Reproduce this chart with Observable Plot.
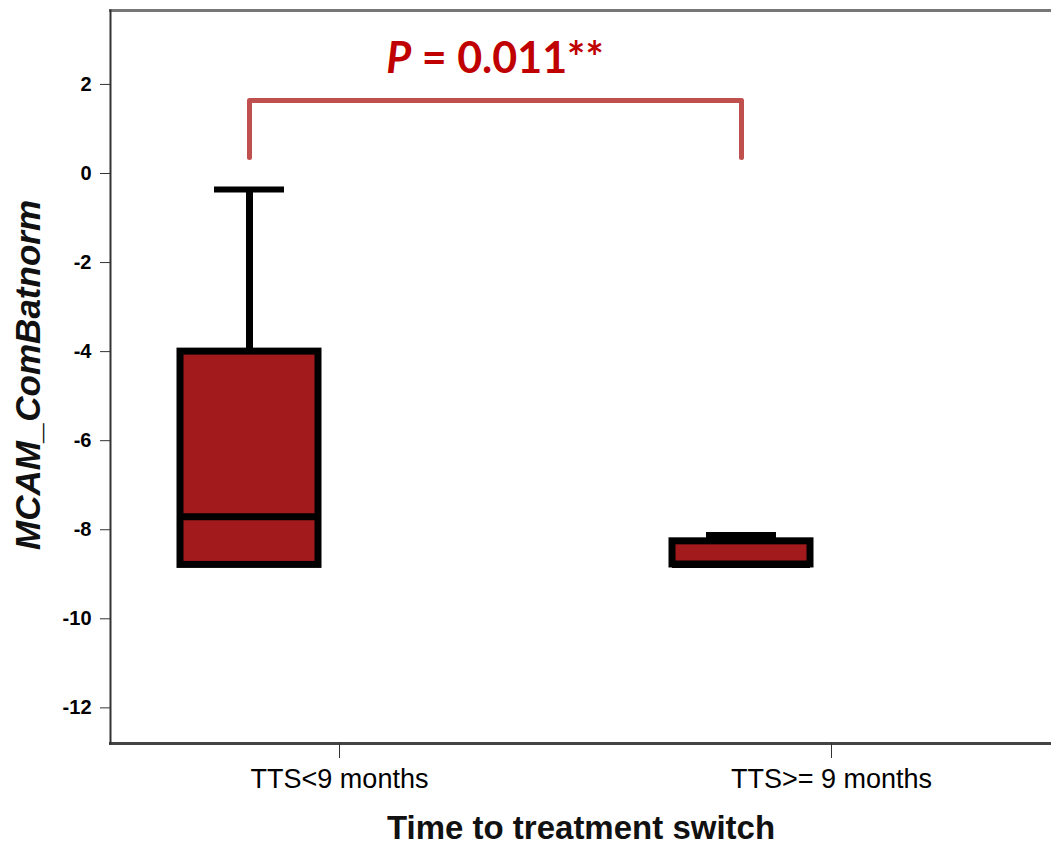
<!DOCTYPE html>
<html><head><meta charset="utf-8">
<script src="https://cdn.jsdelivr.net/npm/d3@7"></script>
<script src="https://cdn.jsdelivr.net/npm/@observablehq/plot@0.6"></script>
<style>html,body{margin:0;padding:0;background:#fff} svg{display:block}</style>
</head><body><div id="chart"></div>
<script>
// ---- data ----
const groups = ["TTS<9 months", "TTS>= 9 months"];
const q1 = [-8.79, -8.78];
const median = [-7.71, -8.78];
const q3 = [-4.0, -8.26];
const whiskerMax = [-0.36, -8.12];
const yTicks = [-12, -10, -8, -6, -4, -2, 0, 2];
const yDomain = [-12.8, 3.66];
const bracketX = [groups[0], groups[0], groups[1], groups[1]];
const bracketY = [0.36, 1.64, 1.64, 0.36];
const pPrefix = "P";
const pRest = " = 0.011**";
const pY = 2.25;
const xTitle = "Time to treatment switch";
const yTitle = "MCAM_ComBatnorm";

const boxes = groups.map((g, i) => ({group: g, q1: q1[i], median: median[i], q3: q3[i], max: whiskerMax[i]}));
const bracket = bracketX.map((x, i) => ({x, y: bracketY[i]}));

const plot = Plot.plot({
  width: 1051,
  height: 845,
  marginLeft: 110,
  marginRight: 0,
  marginTop: 10,
  marginBottom: 102,
  style: {fontFamily: "Liberation Sans, Arial, sans-serif", background: "#fff"},
  x: {type: "band", domain: groups, paddingInner: 0.72, paddingOuter: 0.3145, align: 0.226, axis: null},
  y: {domain: yDomain, axis: null},
  marks: [
    Plot.frame({anchor: "top", stroke: "#777", strokeWidth: 3}),
    Plot.frame({anchor: "bottom", stroke: "#444", strokeWidth: 3}),
    Plot.frame({anchor: "left", stroke: "#333", strokeWidth: 2}),
    Plot.axisY({ticks: yTicks, tickSize: 10, tickPadding: 9, fontSize: 20, fontWeight: "bold",
      tickFormat: d => String(d), label: null, stroke: "#333"}),
    Plot.axisX({dx: 90, tickSize: 15, tickPadding: 10, fontSize: 27, label: null, stroke: "#333"}),
    Plot.ruleX(boxes, {x: "group", y1: "q3", y2: "max", stroke: "#000", strokeWidth: 7}),
    Plot.barY(boxes, {x: "group", y1: "q1", y2: "q3", fill: "#a31a1c", stroke: "#000", strokeWidth: 7}),
    Plot.tickY(boxes, {x: "group", y: "median", stroke: "#000", strokeWidth: 7}),
    Plot.tickY(boxes, {x: "group", y: "max", stroke: "#000", strokeWidth: 6, insetLeft: 34, insetRight: 34}),
    Plot.line(bracket, {x: "x", y: "y", stroke: "#c0504d", strokeWidth: 5, strokeLinejoin: "round", strokeLinecap: "round"}),
    Plot.text([xTitle], {frameAnchor: "bottom", dy: 95, fontSize: 33, fontWeight: "bold", fill: "#111"}),
    Plot.text([yTitle], {frameAnchor: "left", textAnchor: "middle", rotate: -90, dx: -82, dy: -2, fontSize: 35, fontWeight: "bold", fontStyle: "italic", fill: "#111"})
  ]
});

const xs = plot.scale("x"), ys = plot.scale("y");
const cx = (xs.apply(groups[0]) + xs.apply(groups[1])) / 2 + xs.bandwidth / 2;
const t = d3.select(plot).append("text")
  .attr("x", cx).attr("y", ys.apply(pY))
  .attr("text-anchor", "middle")
  .attr("font-family", "Lato, 'Open Sans', sans-serif")
  .attr("font-weight", "bold")
  .attr("font-size", 43)
  .attr("fill", "#c00000");
t.append("tspan").attr("font-style", "italic").text(pPrefix);
t.append("tspan").text(pRest);

document.getElementById("chart").appendChild(plot);
</script>
</body></html>
